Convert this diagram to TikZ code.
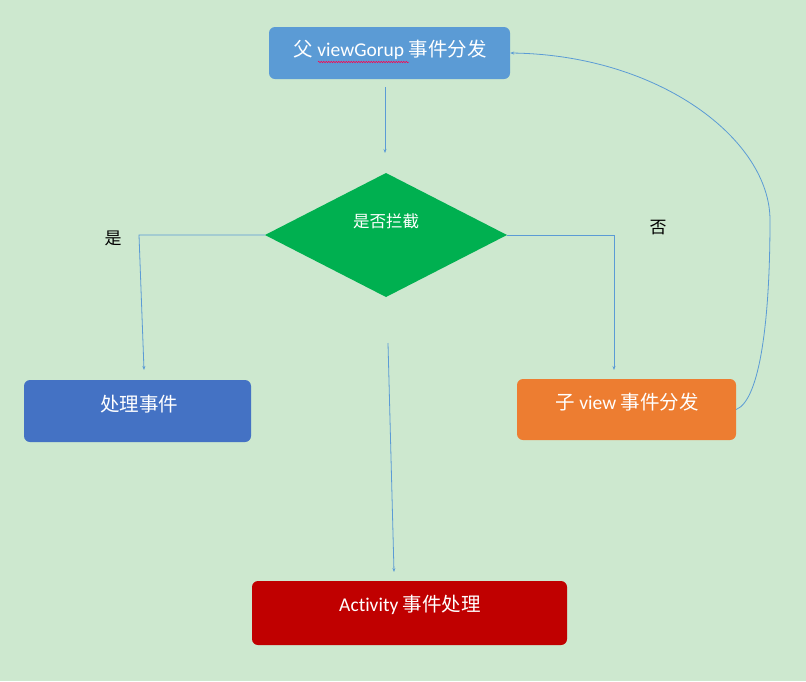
\documentclass[tikz,border=0pt]{standalone}
\usepackage{fontspec}
\setmainfont{Carlito}[Ligatures=NoCommon]
\newfontfamily\cjk{Noto Sans CJK SC}
\usetikzlibrary{arrows.meta,decorations.pathmorphing}
\definecolor{bg}{RGB}{205,232,207}
\definecolor{cblue}{RGB}{91,155,213}
\definecolor{cdark}{RGB}{68,114,196}
\definecolor{cgreen}{RGB}{0,176,80}
\definecolor{corange}{RGB}{237,125,49}
\definecolor{cred}{RGB}{192,0,0}
\definecolor{lineblue}{RGB}{91,155,213}
\tikzset{
  box/.style={draw=none,rounded corners=6pt,inner sep=0pt},
  boxtext/.style={text=white,inner sep=0pt,font=\fontsize{19.5}{22}\selectfont},
  conn/.style={draw=lineblue,line width=0.8pt,-{Stealth[length=4pt,width=3pt]}},
  lbl/.style={text=black,inner sep=0pt,font=\fontsize{17}{19}\selectfont\cjk}
}
\begin{document}
\begin{tikzpicture}[x=1pt,y=-1pt]
\fill[bg] (0,0) rectangle (806,681);
\useasboundingbox (0,0) rectangle (806,681);
% boxes
\node[box,fill=cblue,minimum width=241pt,minimum height=52pt] (top) at (389.5,53) {};
\node[boxtext] (toptext) at (390,50) {{\cjk 父} viewGorup {\cjk 事件分发}};
\coordinate (wavyA) at (318,62);
\coordinate (wavyB) at (409,62);
\draw[red!70!magenta,line width=0.5pt,decorate,decoration={snake,amplitude=0.8pt,segment length=2.5pt}] (wavyA) -- (wavyB);
\fill[cgreen] (265,235) coordinate (diaW) -- (386,173) coordinate (diaN) -- (507,235) coordinate (diaE) -- (386,297) coordinate (diaS) -- cycle;
\node[text=white,inner sep=0pt,font=\fontsize{16.5}{18}\selectfont\cjk] (diatext) at (386,221) {是否拦截};
\node[box,fill=cdark,minimum width=227pt,minimum height=62pt] (left) at (137.5,411) {};
\node[boxtext,font=\fontsize{19.5}{22}\selectfont\cjk] (lefttext) at (139,404) {处理事件};
\node[box,fill=corange,minimum width=219pt,minimum height=61pt] (right) at (626.5,409.5) {};
\node[boxtext] (righttext) at (627,402) {{\cjk 子} view {\cjk 事件分发}};
\node[box,fill=cred,minimum width=315pt,minimum height=64pt] (bottom) at (409.5,613) {};
\node[boxtext] (bottomtext) at (410,605) {Activity {\cjk 事件处理}};
% labels
\node[lbl] (yes) at (113,238) {是};
\node[lbl] (no) at (658,228) {否};
% connectors
\coordinate (topOut) at (385,87);
\coordinate (topIn) at (385,153);
\draw[conn] (topOut) -- (topIn);
\coordinate (lcorner) at (139,235);
\coordinate (lend) at (144,370);
\draw[conn] (diaW) -- (lcorner) -- (lend);
\coordinate (rcorner) at (614,235);
\coordinate (rend) at (614,370);
\draw[conn] (diaE) -- (rcorner) -- (rend);
\coordinate (cstart) at (388,343);
\coordinate (cend) at (394,572);
\draw[conn] (cstart) -- (cend);
\coordinate (curveMid) at (770,220);
\draw[conn] (right.east) .. controls (760,400) and (770,320) .. (curveMid) .. controls (770,140) and (660,55) .. (top.east);
\end{tikzpicture}
\end{document}
